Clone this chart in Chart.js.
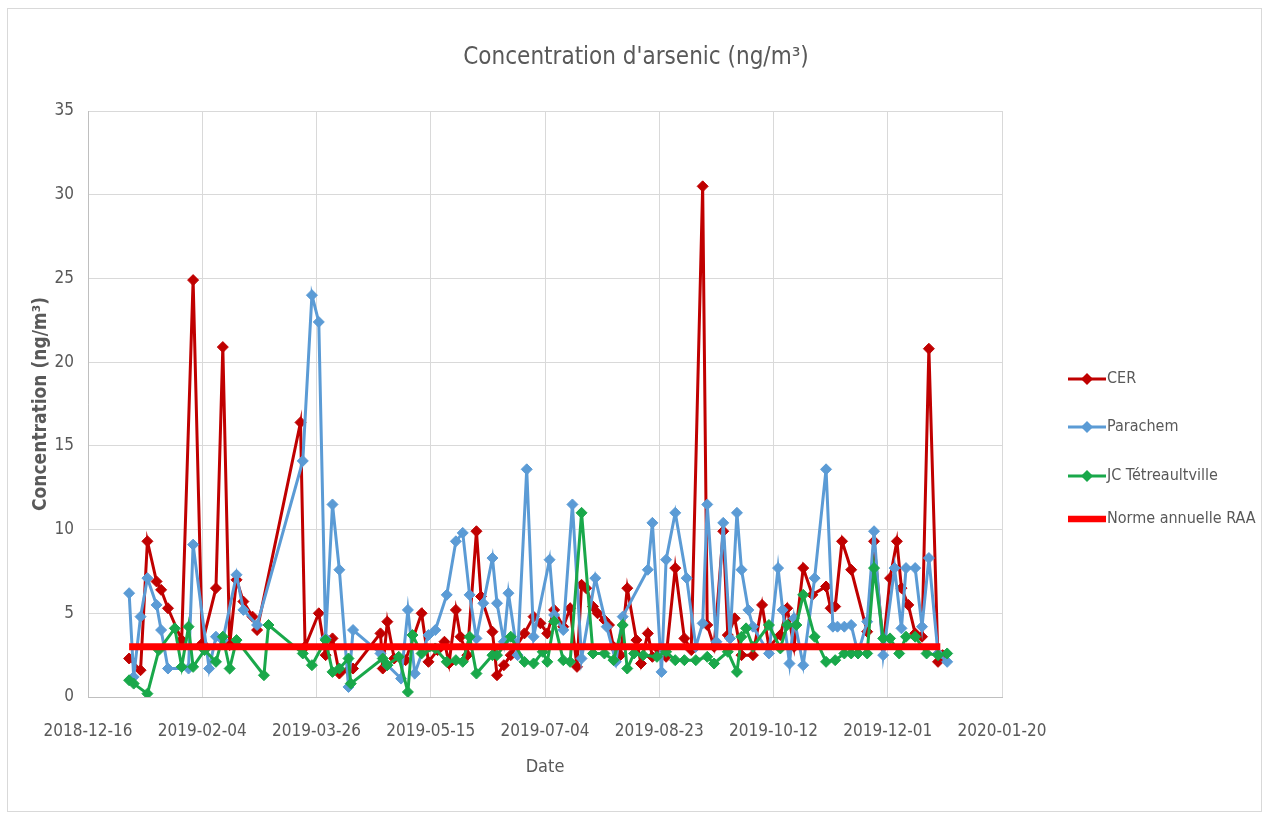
<!DOCTYPE html>
<html><head><meta charset="utf-8">
<script src="https://cdn.jsdelivr.net/npm/chart.js@4.4.1/dist/chart.umd.min.js"></script>
<style>
html,body{margin:0;padding:0;background:#fff;}
#wrap{position:absolute;left:0;top:0;width:1268px;height:815px;}
#frame{position:absolute;left:7px;top:8px;width:1255px;height:804px;border:1px solid #d9d9d9;box-sizing:border-box;}
canvas{position:absolute;left:0;top:0;}
</style></head><body>
<div id="wrap"><div id="frame"></div><canvas id="c" width="1268" height="815"></canvas></div>
<script>
// x values: days since 2018-12-16
const originDate = '2018-12-16';
const xTickStepDays = 50;
const xMaxDays = 400;
const yTicks = [0,5,10,15,20,25,30,35];

const titleText = "Concentration d'arsenic (ng/m³)";
const yTitle = "Concentration (ng/m³)";
const xTitle = "Date";
const seriesNames = ['CER','Parachem','JC Tétreaultville','Norme annuelle RAA'];

const cerDays = [18,23,26,30,32,35,41,46,50,56,59,62,65,68,72,74,93,95,101,104,107,110,114,116,128,129,131,134,139,146,149,153,156,158,161,163,166,170,172,177,179,182,185,191,195,198,201,204,208,211,214,216,218,221,223,226,228,230,233,236,240,242,245,247,250,253,257,261,264,269,271,274,278,280,283,286,291,295,298,303,306,309,313,317,323,325,327,330,334,341,344,348,351,354,356,359,362,365,368,372,374];
const cerValues = [2.3,1.6,9.3,6.9,6.4,5.3,3.4,24.9,3.2,6.5,20.9,3.1,7.0,5.7,4.8,4.0,16.4,3.0,5.0,2.5,3.5,1.4,1.6,1.7,3.8,1.7,4.5,2.3,2.2,5.0,2.1,2.8,3.3,2.0,5.2,3.6,2.5,9.9,6.0,3.9,1.3,1.9,2.5,3.8,4.8,4.4,3.8,5.2,4.2,5.3,1.8,6.7,6.5,5.4,5.0,4.6,4.3,3.0,2.5,6.5,3.4,2.0,3.8,2.4,2.8,2.4,7.7,3.5,2.8,30.5,4.3,3.0,9.9,3.7,4.7,2.5,2.5,5.5,3.0,3.7,5.3,3.0,7.7,6.1,6.6,5.3,5.4,9.3,7.6,3.9,9.3,3.0,7.1,9.3,6.5,5.5,3.8,3.6,20.8,2.1,2.5];

const paraDays = [18,20,23,26,30,32,35,44,46,53,56,59,65,68,74,94,98,101,104,107,110,114,116,128,131,137,140,143,149,152,157,161,164,167,170,173,177,179,182,184,188,192,195,202,204,208,212,216,222,227,231,234,245,247,251,253,257,262,266,269,271,275,278,281,284,286,289,291,298,302,304,307,309,313,318,323,326,328,331,334,337,341,344,348,353,356,358,362,365,368,372,376];
const paraValues = [6.2,1.2,4.8,7.1,5.5,4.0,1.7,1.7,9.1,1.7,3.6,3.4,7.3,5.2,4.3,14.1,24.0,22.4,3.5,11.5,7.6,0.6,4.0,2.6,1.9,1.1,5.2,1.4,3.7,4.0,6.1,9.3,9.8,6.1,3.5,5.6,8.3,5.6,3.3,6.2,2.5,13.6,3.6,8.2,4.9,4.0,11.5,2.3,7.1,4.2,2.1,4.8,7.6,10.4,1.5,8.2,11.0,7.1,3.0,4.4,11.5,3.3,10.4,3.5,11.0,7.6,5.2,4.2,2.6,7.7,5.2,2.0,4.7,1.9,7.1,13.6,4.2,4.2,4.2,4.3,2.6,4.5,9.9,2.5,7.7,4.1,7.7,7.7,4.2,8.3,2.6,2.1];

const jcDays = [18,20,26,31,38,41,44,46,51,56,59,62,65,77,79,94,98,104,107,110,114,115,129,131,136,140,142,146,152,157,161,164,167,170,177,179,185,191,195,199,201,204,208,211,216,221,226,230,234,236,239,243,249,253,257,261,266,271,274,280,284,286,288,291,298,303,306,310,313,318,323,327,331,334,337,341,344,348,351,355,358,362,367,372,376];
const jcValues = [1.0,0.8,0.2,2.8,4.1,1.8,4.2,1.8,2.8,2.1,3.6,1.7,3.4,1.3,4.3,2.6,1.9,3.4,1.5,1.7,2.3,0.8,2.3,1.9,2.4,0.3,3.7,2.6,2.9,2.1,2.2,2.1,3.6,1.4,2.5,2.5,3.6,2.1,2.0,2.7,2.1,4.5,2.2,2.1,11.0,2.6,2.6,2.2,4.3,1.7,2.6,2.5,2.4,2.7,2.2,2.2,2.2,2.4,2.0,2.7,1.5,3.6,4.1,3.0,4.3,2.9,4.3,4.3,6.1,3.6,2.1,2.2,2.6,2.6,2.6,2.6,7.7,3.5,3.5,2.6,3.6,3.6,2.6,2.5,2.6];

const normeDays = [18,373];
const normeValues = [3,3];

const colors = ['#C00000','#5B9BD5','#19A84A','#FF0000'];
const FONT = "'Liberation Sans Narrow','DejaVu Sans Condensed','Open Sans',sans-serif";
const textColor = '#595959';

function pts(d,v){ return d.map((x,i)=>({x:x,y:v[i]})); }
function fmtDay(n){
  const p = originDate.split('-').map(Number);
  const t = new Date(Date.UTC(p[0],p[1]-1,p[2]) + n*86400000);
  const mm = String(t.getUTCMonth()+1).padStart(2,'0');
  const dd = String(t.getUTCDate()).padStart(2,'0');
  return t.getUTCFullYear()+'-'+mm+'-'+dd;
}
function seriesDs(i,d,v,ord){
  return {label:seriesNames[i], data:pts(d,v), borderColor:colors[i], backgroundColor:colors[i],
    borderWidth:3, pointStyle:'rectRot', pointRadius:5.5, pointBorderWidth:1, pointBackgroundColor:colors[i],
    pointBorderColor:colors[i], tension:0, order:ord};
}

const decor = {
  id:'decor',
  afterDraw(chart){
    const ctx = chart.ctx;
    ctx.save();
    ctx.fillStyle = textColor;
    ctx.textAlign='center'; ctx.textBaseline='middle';
    ctx.font = '24px '+FONT;
    ctx.fillText(titleText, 636, 58);
    // legend
    const ys = [379,427,476,519];
    ctx.textAlign='left';
    ctx.font = '16px '+FONT;
    chart.data.datasets.forEach((ds,i)=>{
      const y = ys[i];
      ctx.strokeStyle = ds.borderColor;
      ctx.lineWidth = i===3 ? 6.5 : 3;
      ctx.beginPath(); ctx.moveTo(1068,y); ctx.lineTo(1106,y); ctx.stroke();
      if(i<3){
        ctx.fillStyle = ds.borderColor;
        ctx.beginPath(); ctx.moveTo(1087,y-6); ctx.lineTo(1093,y); ctx.lineTo(1087,y+6); ctx.lineTo(1081,y); ctx.closePath(); ctx.fill();
      }
      ctx.fillStyle = textColor;
      ctx.fillText(seriesNames[i], 1107, y);
    });
    ctx.restore();
  }
};

new Chart(document.getElementById('c'), {
  type:'line',
  data:{datasets:[
    seriesDs(0,cerDays,cerValues,4),
    seriesDs(1,paraDays,paraValues,3),
    seriesDs(2,jcDays,jcValues,2),
    {label:seriesNames[3], data:pts(normeDays,normeValues), borderColor:colors[3], backgroundColor:colors[3],
     borderWidth:7, pointRadius:0, order:1}
  ]},
  options:{
    responsive:false, animation:false, devicePixelRatio:1,
    layout:{padding:{left:26,right:266,top:111,bottom:33}},
    plugins:{legend:{display:false}, title:{display:false}, tooltip:{enabled:false}},
    scales:{
      x:{type:'linear', min:0, max:xMaxDays,
        afterFit(s){ s.height = 85; },
        grid:{color:'#d9d9d9', lineWidth:1, drawTicks:false},
        border:{color:'#bfbfbf'},
        ticks:{stepSize:xTickStepDays, padding:24, color:textColor, font:{family:FONT,size:17}, maxRotation:0, callback:v=>fmtDay(v)},
        title:{display:true, text:xTitle, color:textColor, font:{family:FONT,size:18}}
      },
      y:{min:0, max:35,
        afterFit(s){ s.width = 62; },
        afterBuildTicks(s){ s.ticks = yTicks.map(v=>({value:v})); },
        grid:{color:'#d9d9d9', lineWidth:1, drawTicks:false},
        border:{color:'#bfbfbf'},
        ticks:{padding:14, color:textColor, font:{family:FONT,size:17}},
        title:{display:true, text:yTitle, color:textColor, font:{family:FONT,size:19,weight:'bold'}}
      }
    }
  },
  plugins:[decor]
});
</script>
</body></html>
